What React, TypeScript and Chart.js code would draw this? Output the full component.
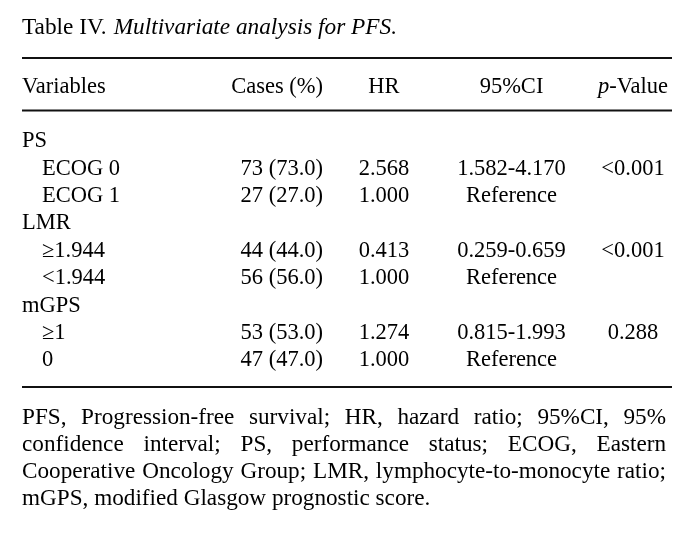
import React, { useEffect, useRef } from 'react';
import { Chart, registerables } from 'chart.js';

Chart.register(...registerables);

// ---- data ----
const tableNumber = 'Table IV.';
const tableCaption = 'Multivariate analysis for PFS.';
const columnHeaders = ['Variables', 'Cases (%)', 'HR', '95%CI', 'p-Value'];
const rowLabels = ['PS', 'ECOG 0', 'ECOG 1', 'LMR', '≥1.944', '<1.944', 'mGPS', '≥1', '0'];
const groupRows = [true, false, false, true, false, false, true, false, false];
const cases = ['', '73 (73.0)', '27 (27.0)', '', '44 (44.0)', '56 (56.0)', '', '53 (53.0)', '47 (47.0)'];
const hazardRatios = ['', '2.568', '1.000', '', '0.413', '1.000', '', '1.274', '1.000'];
const confidenceIntervals = ['', '1.582-4.170', 'Reference', '', '0.259-0.659', 'Reference', '', '0.815-1.993', 'Reference'];
const pValues = ['', '<0.001', '', '', '<0.001', '', '', '0.288', ''];
const footnoteLines = [
  'PFS, Progression-free survival; HR, hazard ratio; 95%CI, 95%',
  'confidence interval; PS, performance status; ECOG, Eastern',
  'Cooperative Oncology Group; LMR, lymphocyte-to-monocyte ratio;',
  'mGPS, modified Glasgow prognostic score.',
];

// ---- layout / style ----
const FONT_FAMILY = '"Liberation Serif", "Times New Roman", serif';
const BODY_SIZE = 22.5;
const TITLE_SIZE = 23.3;
const FOOT_SIZE = 23.2;
const TEXT_COLOR = '#000000';
const LEFT = 22;
const RIGHT = 672;
const TEXT_RIGHT = 666;
const INDENT = 20;
const CAP_HALF = 7.4;
const TITLE_BASELINE = 34;
const HEADER_BASELINE = 93;
const RULES = [58, 110.5, 387];
const FOOT_BASELINES = [424, 451, 478, 505];
// column anchors in x-scale units (x-scale spans the canvas width)
const COL_CASES_RIGHT = 323;
const COL_HR_CENTER = 384;
const COL_CI_CENTER = 511.5;
const COL_P_CENTER = 633;

const font = (size: number, italic = false) => `${italic ? 'italic ' : ''}${size}px ${FONT_FAMILY}`;

const tablePlugin = {
  id: 'tableText',
  afterDraw(chart: any) {
    const ctx = chart.ctx as CanvasRenderingContext2D;
    const xs = chart.scales.x;
    const ys = chart.scales.y;
    const X = (v: number) => xs.getPixelForValue(v);
    ctx.save();
    ctx.fillStyle = TEXT_COLOR;
    ctx.strokeStyle = '#111111';
    ctx.textBaseline = 'alphabetic';

    // title
    ctx.font = font(TITLE_SIZE, false);
    ctx.textAlign = 'left';
    ctx.fillText(tableNumber, X(LEFT), TITLE_BASELINE);
    const tw = ctx.measureText(tableNumber).width + 7;
    ctx.font = font(TITLE_SIZE, true);
    ctx.fillText(tableCaption, X(LEFT) + tw, TITLE_BASELINE);

    // rules
    ctx.lineWidth = 1.8;
    RULES.forEach((y) => {
      ctx.beginPath();
      ctx.moveTo(X(LEFT), y);
      ctx.lineTo(X(RIGHT), y);
      ctx.stroke();
    });

    // header
    ctx.font = font(BODY_SIZE, false);
    ctx.textAlign = 'left';
    ctx.fillText(columnHeaders[0], X(LEFT), HEADER_BASELINE);
    ctx.textAlign = 'right';
    ctx.fillText(columnHeaders[1], X(COL_CASES_RIGHT), HEADER_BASELINE);
    ctx.textAlign = 'center';
    ctx.fillText(columnHeaders[2], X(COL_HR_CENTER), HEADER_BASELINE);
    ctx.fillText(columnHeaders[3], X(COL_CI_CENTER), HEADER_BASELINE);
    // p-Value with italic p
    const pParts = columnHeaders[4].split('-');
    ctx.font = font(BODY_SIZE, true);
    const wP = ctx.measureText(pParts[0]).width;
    ctx.font = font(BODY_SIZE, false);
    const rest = '-' + pParts.slice(1).join('-');
    const wR = ctx.measureText(rest).width;
    const pStart = X(COL_P_CENTER) - (wP + wR) / 2;
    ctx.textAlign = 'left';
    ctx.font = font(BODY_SIZE, true);
    ctx.fillText(pParts[0], pStart, HEADER_BASELINE);
    ctx.font = font(BODY_SIZE, false);
    ctx.fillText(rest, pStart + wP, HEADER_BASELINE);

    // rows
    ctx.font = font(BODY_SIZE, false);
    rowLabels.forEach((label, i) => {
      const yb = ys.getPixelForValue(i) + CAP_HALF;
      ctx.textAlign = 'left';
      ctx.fillText(label, X(LEFT + (groupRows[i] ? 0 : INDENT)), yb);
      ctx.textAlign = 'right';
      if (cases[i]) ctx.fillText(cases[i], X(COL_CASES_RIGHT), yb);
      ctx.textAlign = 'center';
      if (hazardRatios[i]) ctx.fillText(hazardRatios[i], X(COL_HR_CENTER), yb);
      if (confidenceIntervals[i]) ctx.fillText(confidenceIntervals[i], X(COL_CI_CENTER), yb);
      if (pValues[i]) ctx.fillText(pValues[i], X(COL_P_CENTER), yb);
    });

    // footnote (justified)
    ctx.font = font(FOOT_SIZE, false);
    ctx.textAlign = 'left';
    footnoteLines.forEach((line, li) => {
      const y = FOOT_BASELINES[li];
      const justify = li < footnoteLines.length - 1;
      if (!justify) {
        ctx.fillText(line, X(LEFT), y);
        return;
      }
      const words = line.split(' ');
      const widths = words.map((w) => ctx.measureText(w).width);
      const total = widths.reduce((a, b) => a + b, 0);
      const gap = (X(TEXT_RIGHT) - X(LEFT) - total) / (words.length - 1);
      let x = X(LEFT);
      words.forEach((w, k) => {
        ctx.fillText(w, x, y);
        x += widths[k] + gap;
      });
    });
    ctx.restore();
  },
};

export default function App() {
  const ref = useRef<HTMLCanvasElement | null>(null);
  useEffect(() => {
    if (!ref.current) return;
    const chart = new Chart(ref.current, {
      type: 'scatter',
      data: { labels: rowLabels, datasets: [{ data: [], pointRadius: 0 }] },
      options: {
        animation: false,
        responsive: false,
        devicePixelRatio: 1,
        layout: { padding: { top: 126, bottom: 162.4, left: 0, right: 0 } },
        plugins: { legend: { display: false }, title: { display: false }, tooltip: { enabled: false } },
        events: [],
        scales: {
          x: { type: 'linear', min: 0, max: 694, display: false },
          y: { type: 'category', labels: rowLabels, offset: true, display: false },
        },
      },
      plugins: [tablePlugin],
    });
    return () => chart.destroy();
  }, []);
  return (
    <div style={{ position: 'absolute', left: 0, top: 0, width: 694, height: 535, background: '#fff' }}>
      <canvas ref={ref} width={694} height={535} style={{ display: 'block' }} />
    </div>
  );
}
